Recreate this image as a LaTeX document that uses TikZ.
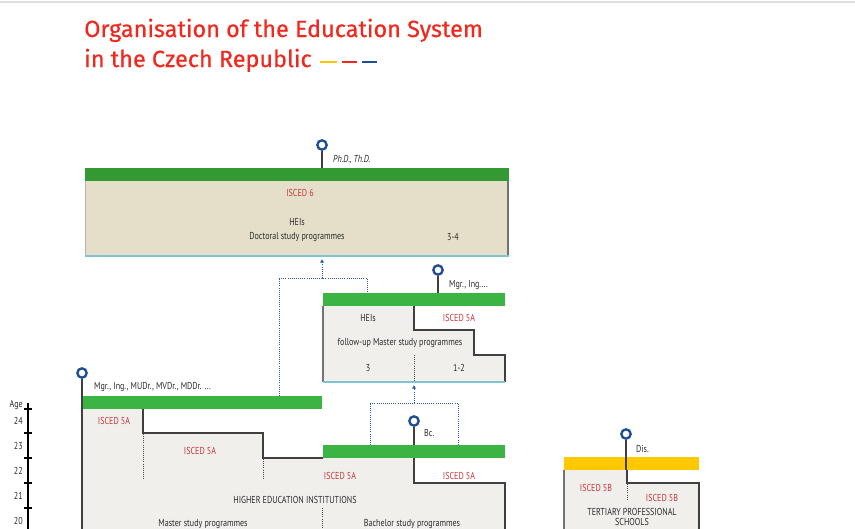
\documentclass[tikz,border=0pt]{standalone}
\usepackage{fontspec}
\usepackage{tikz}
\usetikzlibrary{arrows.meta}
\setmainfont{PT Sans}[FakeStretch=0.8]
\newfontfamily\titlefont{Fira Sans}[FakeBold=0.5]

\definecolor{titlered}{HTML}{F0281E}
\definecolor{iscedred}{HTML}{C8343C}
\definecolor{bargreen}{HTML}{3CB443}
\definecolor{phdgreen}{HTML}{339933}
\definecolor{beige}{HTML}{E5DFCA}
\definecolor{boxgray}{HTML}{F0EFEC}
\definecolor{edgeblue}{HTML}{7EC4D4}
\definecolor{pinblue}{HTML}{1F4E96}
\definecolor{flowblue}{HTML}{2A5BA8}
\definecolor{baryellow}{HTML}{FFC800}
\definecolor{textgray}{HTML}{2B2B2B}

\begin{document}
\begin{tikzpicture}[x=0.03cm,y=-0.03cm,
        txt/.style={text=textgray,font=\fontsize{8.6}{9.6}\selectfont,inner sep=0pt},
        isced/.style={txt,text=iscedred},
        degree/.style={txt,anchor=west},
        qualpin/.style={shape=circle,draw=pinblue,fill=white,line width=2pt,minimum size=8pt,inner sep=0pt},
        stem/.style={draw=black!75,line width=0.9pt},
        stepline/.style={draw=black!75,line width=0.9pt},
        sideline/.style={draw=black!55,line width=0.9pt},
        baseline/.style={draw=edgeblue,line width=2pt},
        yearsplit/.style={draw=black!70,line width=0.8pt,densely dotted},
        flow/.style={draw=flowblue,line width=0.8pt,densely dotted},
        agelabel/.style={text=textgray,font=\fontsize{8.6}{9.6}\selectfont,anchor=east,inner sep=0pt}]
        \useasboundingbox (0,0) rectangle (855,529);
        \draw[black!12,line width=1.5pt] (0,2) -- (855,2);

        % title
        \node[anchor=base west,text=titlered,font=\titlefont\fontsize{20}{23}\selectfont,inner sep=0pt] (title1) at (84,37) {Organisation of the Education System};
        \node[anchor=base west,text=titlered,font=\titlefont\fontsize{20}{23}\selectfont,inner sep=0pt] (title2) at (84,67) {in the Czech Republic};
        \draw[baryellow,line width=1.5pt] (320,62) -- (337,62);
        \draw[titlered,line width=1.5pt] (342,62) -- (357,62);
        \draw[pinblue,line width=1.5pt] (362,62) -- (377,62);

        % age axis
        \draw[black,line width=1pt] (28,403) -- (28,529);
        \foreach \t in {409,433,458,483,508}
                \draw[black,line width=1.2pt] (24,\t) -- (32,\t);
        \node[agelabel] (age) at (23,405) {Age};
        \foreach \a [count=\i] in {24,23,22,21,20}
                \node[agelabel] (age\a) at (23,396+25*\i) {\a};

        % doctoral programmes
        \fill[beige] (85,181) rectangle (509,256);
        \draw[black!30,line width=0.6pt] (85,181) -- (85,255);
        \draw[sideline] (508,181) -- (508,255);
        \fill[phdgreen] (85,168) rectangle (509,181);
        \draw[baseline] (85,256) -- (509,256);
        \node[isced] (isced6) at (300,193) {ISCED 6};
        \node[txt] (phdhei) at (297,222) {HEIs};
        \node[txt] (phdprog) at (297,237) {Doctoral study programmes};
        \node[txt] (phdyears) at (453,237) {3-4};

        % follow-up master programmes
        \fill[boxgray] (323,306) -- (414,306) -- (414,330) -- (474,330) -- (474,355) -- (505,355) -- (505,382) -- (323,382) -- cycle;
        \draw[stepline] (414,306) -- (414,330) -- (474,330) -- (474,355) -- (505,355) -- (505,382);
        \draw[sideline] (323,306) -- (323,382);
        \fill[bargreen] (323,293) rectangle (505,306);
        \draw[baseline] (323,382) -- (505,382);
        \draw[yearsplit] (414,355) -- (414,381);
        \node[txt] (fuhei) at (368,318) {HEIs};
        \node[isced] (fuisced) at (459,318) {ISCED 5A};
        \node[txt] (fuprog) at (400,343) {follow-up Master study programmes};
        \node[txt] (fuyearsA) at (368,368) {3};
        \node[txt] (fuyearsB) at (459,368) {1-2};

        % higher education institutions
        \fill[boxgray] (82,409) -- (143,409) -- (143,433) -- (263,433) -- (263,458) -- (414,458) -- (414,483) -- (505,483) -- (505,529) -- (82,529) -- cycle;
        \draw[stepline] (143,409) -- (143,433) -- (263,433) -- (263,458) -- (323,458);
        \draw[stepline] (414,458) -- (414,483) -- (505,483) -- (505,529);
        \fill[bargreen] (82,396) rectangle (322,409);
        \fill[bargreen] (323,445) rectangle (505,458);
        \draw[yearsplit] (143,434) -- (143,480);
        \draw[yearsplit] (263,459) -- (263,480);
        \draw[yearsplit] (322,508) -- (322,529);
        \node[isced] (mgrA) at (114,421) {ISCED 5A};
        \node[isced] (mgrB) at (200,451) {ISCED 5A};
        \node[isced] (bcA) at (340,476) {ISCED 5A};
        \node[isced] (bcB) at (459,476) {ISCED 5A};
        \node[txt] (hei) at (295,500) {HIGHER EDUCATION INSTITUTIONS};
        \node[txt] (mgrprog) at (203,524) {Master study programmes};
        \node[txt] (bcprog) at (412,524) {Bachelor study programmes};

        % tertiary professional schools
        \fill[boxgray] (564,470) -- (627,470) -- (627,483) -- (699,483) -- (699,529) -- (564,529) -- cycle;
        \draw[stepline] (627,470) -- (627,483) -- (699,483) -- (699,529);
        \draw[sideline] (564,470) -- (564,529);
        \fill[baryellow] (564,457) rectangle (699,470);
        \draw[yearsplit] (627,484) -- (627,500);
        \node[isced] (tpsA) at (596,488) {ISCED 5B};
        \node[isced] (tpsB) at (662,498) {ISCED 5B};
        \node[txt,align=center,font=\fontsize{8.6}{9}\selectfont] (tps) at (632,517) {TERTIARY PROFESSIONAL\\SCHOOLS};

        % qualifications
        \node[qualpin] (phd) at (322,145) {};
        \coordinate (phdbar) at (322,168);
        \draw[stem] (phd) -- (phdbar);
        \node[degree,font=\itshape\fontsize{8.6}{9.6}\selectfont] (phdlbl) at (333,160) {Ph.D., Th.D.};

        \node[qualpin] (fumgr) at (438,270) {};
        \coordinate (fumgrbar) at (438,293);
        \draw[stem] (fumgr) -- (fumgrbar);
        \node[degree] (fumgrlbl) at (449,285) {Mgr., Ing....};

        \node[qualpin] (mgr) at (82,373) {};
        \coordinate (mgrbottom) at (82,529);
        \draw[stem] (mgr) -- (mgrbottom);
        \node[degree] (mgrlbl) at (94,387) {Mgr., Ing., MUDr., MVDr., MDDr. ...};

        \node[qualpin] (bc) at (414,421) {};
        \coordinate (bcbar) at (414,445);
        \draw[stem] (bc) -- (bcbar);
        \node[degree] (bclbl) at (424,433) {Bc.};

        \node[qualpin] (dis) at (626,434) {};
        \coordinate (disbar) at (626,470);
        \draw[stem] (dis) -- (disbar);
        \node[degree] (dislbl) at (636,449) {Dis.};

        % progression between programmes
        \coordinate (mgrexit) at (279,396);
        \coordinate (phdjoin) at (322,278);
        \coordinate (fuentry) at (367,293);
        \coordinate (phdentry) at (322,259);
        \draw[flow] (mgrexit) |- (phdjoin) -| (fuentry);
        \draw[flow,-{Latex[length=3pt,width=3.5pt]}] (phdjoin) -- (phdentry);

        \coordinate (bcexitA) at (370,445);
        \coordinate (bcexitB) at (458,445);
        \coordinate (fujoin) at (414,403);
        \coordinate (fuexit) at (414,385);
        \draw[flow] (bcexitA) |- (fujoin) -| (bcexitB);
        \draw[flow,-{Latex[length=3pt,width=3.5pt]}] (fujoin) -- (fuexit);
\end{tikzpicture}
\end{document}
